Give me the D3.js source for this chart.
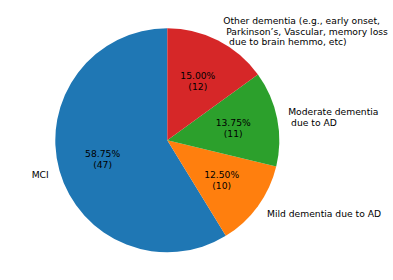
<!DOCTYPE html>
<html>
<head>
<meta charset="utf-8">
<script src="https://cdn.jsdelivr.net/npm/d3@7.9.0/dist/d3.min.js"></script>
<style>
  body { margin: 0; background: #fff; }
  svg { display: block; }
  text { font-family: "DejaVu Sans", sans-serif; font-size: 9.2px; fill: #000; white-space: pre; }
</style>
</head>
<body>
<svg width="393" height="280"></svg>
<script>
// slice labels, in matplotlib order (counter-clockwise from top)
const labels = [
  'MCI',
  'Mild dementia due to AD',
  'Moderate dementia\n due to AD',
  "Other dementia (e.g., early onset,\n Parkinson\u2019s, Vascular, memory loss\n  due to brain hemmo, etc)"
];
const counts = [47, 10, 11, 12];
const colors = ['#1f77b4', '#ff7f0e', '#2ca02c', '#d62728'];

const cx = 167.3, cy = 140.3, radius = 112;
const lineH = 10.7;

const total = d3.sum(counts);
const data = counts.map((c, i) => ({ label: labels[i], value: c, color: colors[i] }));

const svg = d3.select('svg');
const g = svg.append('g').attr('transform', `translate(${cx},${cy})`);

// counter-clockwise starting at 12 o'clock
const pie = d3.pie().sort(null).value(d => d.value).startAngle(0).endAngle(-2 * Math.PI);
const arcData = pie(data);

const arc = d3.arc().innerRadius(0).outerRadius(radius);
const labelArc = d3.arc().innerRadius(radius * 1.1).outerRadius(radius * 1.1);
const pctArc = d3.arc().innerRadius(radius * 0.6).outerRadius(radius * 0.6);

g.selectAll('path')
  .data(arcData)
  .join('path')
  .attr('d', arc)
  .attr('fill', d => d.data.color);

// draw multi-line text centred vertically on a point
function multiText(sel, lines, x, y, anchor) {
  const t = sel.append('text')
    .attr('text-anchor', anchor)
    .attr('dominant-baseline', 'central');
  lines.forEach((ln, i) => {
    t.append('tspan')
      .attr('x', x)
      .attr('y', y + (i - (lines.length - 1) / 2) * lineH)
      .text(ln);
  });
}

arcData.forEach(d => {
  const [lx, ly] = labelArc.centroid(d);
  multiText(g, d.data.label.split('\n'), lx, ly, lx > 0 ? 'start' : 'end');

  const [px, py] = pctArc.centroid(d);
  const pct = (d.data.value / total * 100).toFixed(2) + '%';
  multiText(g, [pct, `(${d.data.value})`], px, py, 'middle');
});
</script>
</body>
</html>
